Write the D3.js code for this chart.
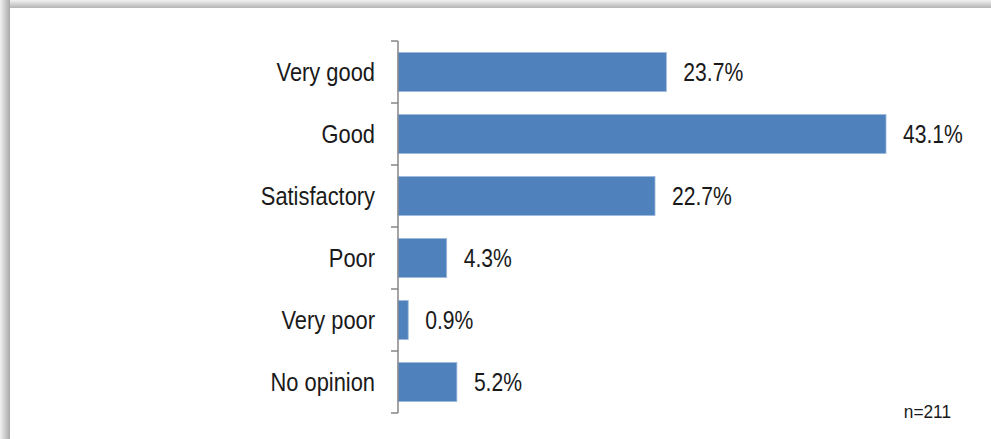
<!DOCTYPE html>
<html>
<head>
<meta charset="utf-8">
<script src="https://cdn.jsdelivr.net/npm/d3@7"></script>
<style>
  html, body { margin: 0; padding: 0; background: #ffffff; }
  svg { display: block; }
  text { font-family: "Liberation Sans Narrow", "Arial Narrow", "Liberation Sans", Arial, sans-serif; fill: #1a1a1a; }
</style>
</head>
<body>
<svg id="chart" width="991" height="439"></svg>
<script>
// Ratings and their shares (percent of respondents)
const categories = ["Very good", "Good", "Satisfactory", "Poor", "Very poor", "No opinion"];
const values = [23.7, 43.1, 22.7, 4.3, 0.9, 5.2];
const sampleNote = "n=211";

const W = 991, H = 439;
const svg = d3.select("#chart");

// Panel with soft shadow along top and left edges
const defs = svg.append("defs");
const gTop = defs.append("linearGradient").attr("id", "shTop").attr("x1", 0).attr("y1", 0).attr("x2", 0).attr("y2", 1);
gTop.append("stop").attr("offset", "0%").attr("stop-color", "#f2f2f2");
gTop.append("stop").attr("offset", "100%").attr("stop-color", "#b4b4b4");
const gLeft = defs.append("linearGradient").attr("id", "shLeft").attr("x1", 0).attr("y1", 0).attr("x2", 1).attr("y2", 0);
gLeft.append("stop").attr("offset", "0%").attr("stop-color", "#f2f2f2");
gLeft.append("stop").attr("offset", "100%").attr("stop-color", "#a8a8a8");

svg.append("rect").attr("x", 0).attr("y", 0).attr("width", W).attr("height", H).attr("fill", "#ffffff");
svg.append("rect").attr("x", 0).attr("y", 0).attr("width", W).attr("height", 8).attr("fill", "url(#shTop)");
svg.append("rect").attr("x", 0).attr("y", 0).attr("width", 10).attr("height", H).attr("fill", "url(#shLeft)");
svg.append("rect").attr("x", 10).attr("y", 8).attr("width", W - 10).attr("height", H - 8).attr("fill", "#ffffff");

// Plot area
const axisX = 398, plotTop = 41, step = 62;
const x = d3.scaleLinear().domain([0, 43.1]).range([axisX, 886]);
const y = d3.scaleBand().domain(categories).range([plotTop, plotTop + step * categories.length]).paddingInner(0.37).paddingOuter(0.185);

// Bars
svg.append("g").selectAll("rect").data(categories).join("rect")
  .attr("x", axisX)
  .attr("y", d => y(d))
  .attr("width", (d, i) => x(values[i]) - axisX)
  .attr("height", y.bandwidth())
  .attr("fill", "#4f81bd")
  .attr("stroke", "#9fb9db")
  .attr("stroke-width", 0.8);

// Category axis with tick marks between bands
const axisG = svg.append("g");
axisG.append("line")
  .attr("x1", axisX).attr("x2", axisX)
  .attr("y1", plotTop).attr("y2", plotTop + step * categories.length)
  .attr("stroke", "#868686").attr("stroke-width", 1.5);
axisG.selectAll("line.tick").data(d3.range(categories.length + 1)).join("line")
  .attr("class", "tick")
  .attr("x1", axisX - 7).attr("x2", axisX)
  .attr("y1", i => plotTop + i * step).attr("y2", i => plotTop + i * step)
  .attr("stroke", "#868686").attr("stroke-width", 1.5);

// Category labels (squeezed horizontally for a condensed look)
svg.append("g").selectAll("text").data(categories).join("text")
  .attr("transform", d => `translate(${axisX - 23},${y(d) + y.bandwidth() / 2}) scale(0.875,1)`)
  .attr("dy", "0.36em")
  .attr("text-anchor", "end")
  .style("font-size", "25px")
  .text(d => d);

// Value labels
svg.append("g").selectAll("text").data(categories).join("text")
  .attr("transform", (d, i) => `translate(${x(values[i]) + 17},${y(d) + y.bandwidth() / 2}) scale(0.845,1)`)
  .attr("dy", "0.36em")
  .style("font-size", "25px")
  .text((d, i) => values[i].toFixed(1) + "%");

// Sample size note
svg.append("text")
  .attr("transform", `translate(951,418) scale(0.96,1)`)
  .attr("text-anchor", "end")
  .style("font-size", "18px")
  .text(sampleNote);
</script>
</body>
</html>
